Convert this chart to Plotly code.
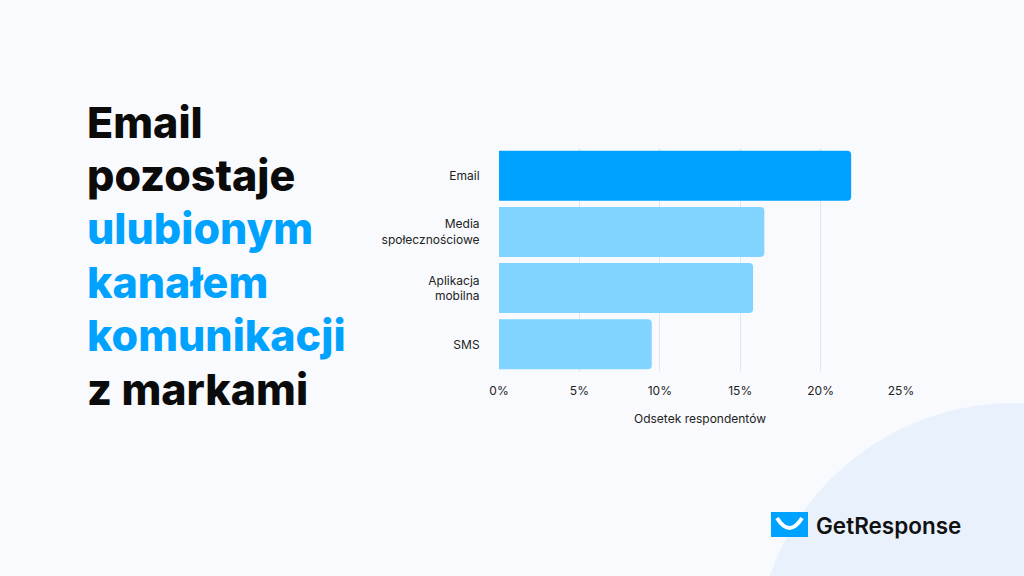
import plotly.graph_objects as go

W, H = 1024, 576

categories = ["Email", "Media<br>społecznościowe", "Aplikacja<br>mobilna", "SMS"]
values = [21.9, 16.5, 15.8, 9.5]
bar_colors = ["#00A2FF", "#80D4FF", "#80D4FF", "#80D4FF"]
tick_vals = [0, 5, 10, 15, 20, 25]
tick_text = ["0%", "5%", "10%", "15%", "20%", "25%"]
title_lines = ["Email", "pozostaje", "ulubionym", "kanałem", "komunikacji", "z markami"]
title_colors = ["#0B0B0B", "#0B0B0B", "#00A2FF", "#00A2FF", "#00A2FF", "#0B0B0B"]

BG = "#F8FAFD"

def px(x):
    return x / W

def py(y):
    return 1 - y / H

fig = go.Figure()
fig.add_trace(go.Bar(
    x=values, y=categories, orientation="h",
    marker=dict(color=bar_colors, line=dict(width=0)),
    hoverinfo="skip",
))

shapes = []
# decorative circle bottom right
cx, cy, r = 1014, 662, 259
shapes.append(dict(type="circle", xref="paper", yref="paper",
                   x0=px(cx - r), x1=px(cx + r), y0=py(cy + r), y1=py(cy - r),
                   fillcolor="#E9F2FC", line=dict(width=0), layer="below"))
# logo square
shapes.append(dict(type="rect", xref="paper", yref="paper",
                   x0=px(771), x1=px(808), y0=py(537), y1=py(512),
                   fillcolor="#00A2FF", line=dict(width=0)))
shapes.append(dict(type="path", xref="paper", yref="paper",
                   path=f"M {px(777)} {py(518)} Q {px(789.5)} {py(538)} {px(802)} {py(518)}",
                   line=dict(color="white", width=4)))

annotations = []
base0, step, fs = 136, 53.4, 43
for i, (t, c) in enumerate(zip(title_lines, title_colors)):
    annotations.append(dict(
        text=t, xref="paper", yref="paper", x=px(85), y=py(base0 + step * i - 14.5),
        xanchor="left", yanchor="middle", showarrow=False,
        font=dict(family="Inter", size=fs, color=c, weight=800),
    ))
annotations.append(dict(
    text="GetResponse", xref="paper", yref="paper", x=px(814), y=py(525),
    xanchor="left", yanchor="middle", showarrow=False,
    font=dict(family="Inter", size=22.5, color="#111111", weight=600),
))

fig.update_layout(
    width=W, height=H,
    paper_bgcolor=BG, plot_bgcolor="rgba(0,0,0,0)",
    margin=dict(l=0, r=0, t=0, b=0, autoexpand=False),
    showlegend=False,
    bargap=0.11,
    barcornerradius=4,
    font=dict(family="Inter", color="#222222", size=12),
    shapes=shapes,
    annotations=annotations,
    xaxis=dict(
        domain=[px(499), px(901)], range=[0, 25],
        tickvals=tick_vals, ticktext=tick_text,
        showgrid=True, gridcolor="#D9E7F6", gridwidth=1,
        zeroline=False, showline=False, automargin=False,
        ticks="outside", ticklen=7, tickcolor="rgba(0,0,0,0)",
        tickfont=dict(size=12, color="#222222"),
        title=dict(text="Odsetek respondentów", font=dict(size=12, color="#222222"), standoff=17),
    ),
    yaxis=dict(
        domain=[py(372.4), py(147.6)],
        autorange="reversed", automargin=False,
        showgrid=False, zeroline=False, showline=False,
        ticks="outside", ticklen=16, tickcolor="rgba(0,0,0,0)",
        tickfont=dict(size=12, color="#222222"),
    ),
)

fig.write_html(
    "out.html",
    config={"displayModeBar": False, "responsive": False},
    post_script="document.body.style.margin='0';document.body.style.overflow='hidden';",
)
